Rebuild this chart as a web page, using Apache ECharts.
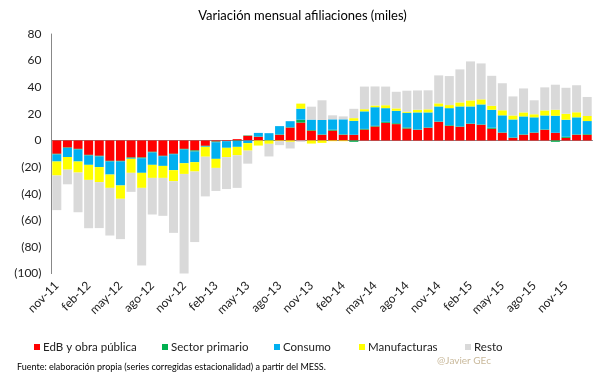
<!DOCTYPE html>
<html>
<head>
<meta charset="utf-8">
<script src="https://cdn.jsdelivr.net/npm/echarts@6/dist/echarts.min.js"></script>
<style>
html,body{margin:0;padding:0;background:#fff;}
#chart{width:605px;height:378px;}
</style>
</head>
<body>
<div id="chart"></div>
<script>
var categories = ['nov-11','dic-11','ene-12','feb-12','mar-12','abr-12','may-12','jun-12','jul-12','ago-12','sep-12','oct-12',
  'nov-12','dic-12','ene-13','feb-13','mar-13','abr-13','may-13','jun-13','jul-13','ago-13','sep-13','oct-13',
  'nov-13','dic-13','ene-14','feb-14','mar-14','abr-14','may-14','jun-14','jul-14','ago-14','sep-14','oct-14',
  'nov-14','dic-14','ene-15','feb-15','mar-15','abr-15','may-15','jun-15','jul-15','ago-15','sep-15','oct-15',
  'nov-15','dic-15','ene-16'];

var edb = [-10,-5.3,-6.3,-10.8,-11.5,-15.3,-15.3,-12.8,-12.8,-8.5,-11.5,-10,
  -6.3,-7.5,-4,-0.8,-0.5,1,3.5,2.7,0,4.3,9.7,13.4,
  7.4,4.3,7.4,4.3,4.3,8.2,10.5,13.3,12.3,9,8,9.5,
  14,11,10.3,12.5,11.8,8.8,5.8,2,4.3,5.8,8,5.8,
  2,4.3,4.3];

var primario = [-0.5,-0.3,-0.5,-0.5,-0.5,-0.5,-0.5,-0.5,-0.5,-0.5,-0.3,-0.3,
  -0.5,-0.8,-0.3,-0.5,0,-0.3,0.3,0.3,0.3,0.3,0.3,2.2,
  0.5,0.3,0.7,0.3,-1,0.5,0.5,0.7,0.7,0.8,0.3,0.3,
  0.3,0.5,0.3,0.3,0.3,0.8,0.3,0.3,0.3,0.3,0.3,-1,
  0.8,0.3,0.5];

var consumo = [-5.3,-6.8,-9,-7,-8,-9.8,-18,-0.5,-11,-9.3,-7.3,-12,
  -10.3,-8,-0.5,-12.5,-5,-4.5,-2,2.7,5.2,6.2,4.5,8.3,
  7.8,10.8,7.8,11.3,10.5,13.2,14,10.3,9.3,11,12.8,11.3,
  11.3,12.8,15,12.8,15,13.5,12.8,13.5,13.5,11.3,10.5,12.8,
  12.8,12.8,9.8];

var manufacturas = [-10.5,-9.5,-8.3,-11.3,-11.3,-10,-10,-10.5,-11.3,-9.8,-9,-8.3,
  -8,-7,-7.4,-6.8,-7,-6.3,-5.6,-3.8,-2.5,-0.5,-1,3.8,
  -2.3,-1.8,-0.5,-0.5,2,1.6,1.3,2.2,1.8,0.8,2,2.3,
  2.3,2.3,3,4.5,3.8,3,3.8,3,3,2.3,3.8,4.5,
  4.5,3.8,3.8];

var resto = [-26,-11,-29.8,-36.3,-34.5,-35.8,-30.3,-14.3,-58.3,-27.5,-28.5,-38.8,
  -75,-53,-29.8,-17.3,-24,-24.5,-9.8,0,-9.5,-3,-5,-1,
  9.7,14.8,3,2.2,7,17,14.3,14,12.5,15.8,14.5,14.3,
  21,21.8,24.8,29.3,27,22.5,20.3,14.3,18,10.5,17.3,18.8,
  19.5,20.3,14.3];

var seriesNames = ['EdB y obra pública','Sector primario','Consumo','Manufacturas','Resto'];
var seriesColors = ['#FF0000','#00B050','#00B0F0','#FFFF00','#D9D9D9'];
var seriesData = [edb, primario, consumo, manufacturas, resto];

var FONT = 'Lato';
var chart = echarts.init(document.getElementById('chart'), null, {renderer:'canvas'});

var series = seriesNames.map(function(n, i){
  return {
    name: n, type: 'bar', stack: 'total', stackStrategy: 'samesign',
    data: seriesData[i], itemStyle: {color: seriesColors[i]},
    barCategoryGap: '15%', animation: false
  };
});

var legendLefts = [29, 157, 269, 354, 460];
var legends = seriesNames.map(function(n, i){
  return {
    data: [n], left: legendLefts[i], top: 336, icon: 'rect',
    itemWidth: 6, itemHeight: 6, selectedMode: false,
    textStyle: {fontFamily: FONT, fontSize: 11.5, color: '#222', padding: [0,0,0,-2]}
  };
});

chart.setOption({
  animation: false,
  backgroundColor: '#fff',
  title: {
    text: 'Variación mensual afiliaciones (miles)',
    left: 'center', top: 4,
    textStyle: {fontFamily: FONT, fontSize: 13, fontWeight: 'normal', color: '#000'}
  },
  legend: legends,
  grid: {left: 51.5, right: 12.5, top: 34, bottom: 104.4, containLabel: false},
  xAxis: [{
    type: 'category', data: categories,
    axisLine: {show: false, onZero: false},
    axisTick: {show: false},
    axisLabel: {interval: 2, rotate: 45, margin: 10, fontFamily: FONT, fontSize: 12, color: '#222'}
  },{
    type: 'category', data: categories, position: 'bottom',
    axisLine: {show: true, onZero: true, lineStyle: {color: '#888', width: 1}},
    axisTick: {show: false}, axisLabel: {show: false}
  }],
  yAxis: {
    type: 'value', min: -100, max: 80, interval: 20,
    axisLine: {show: true, lineStyle: {color: '#888', width: 1}},
    axisTick: {show: false},
    splitLine: {show: false},
    axisLabel: {
      fontFamily: FONT, fontSize: 12, color: '#222', margin: 10,
      formatter: function(v){ return v < 0 ? '(' + (-v) + ')' : String(v); }
    }
  },
  series: series,
  graphic: [
    {type: 'text', left: 17, top: 363,
     style: {text: 'Fuente: elaboración propia (series corregidas estacionalidad) a partir del MESS.',
       font: '9px Lato', fill: '#000'}},
    {type: 'text', left: 437, top: 356,
     style: {text: '@Javier GEc', font: '10px Lato', fill: '#C9B99B'}}
  ]
});
</script>
</body>
</html>
